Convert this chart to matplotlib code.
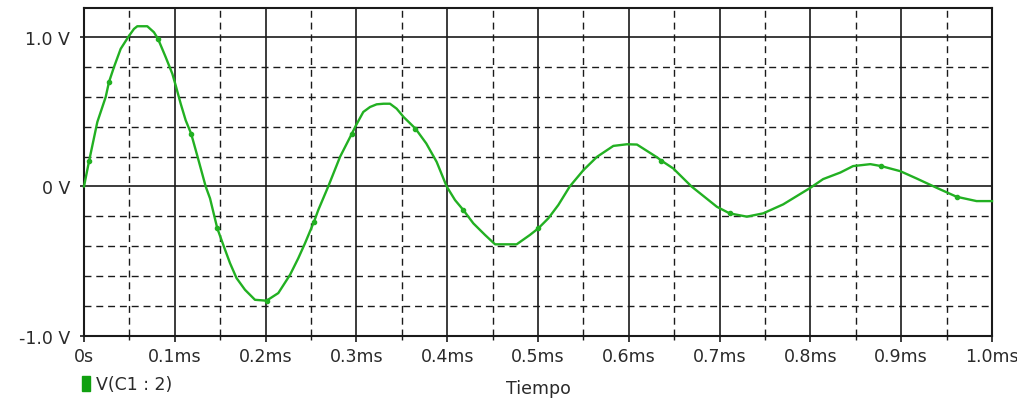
import numpy as np
import matplotlib
matplotlib.use('Agg')
import matplotlib.pyplot as plt
from matplotlib.ticker import MultipleLocator, FixedLocator

# Transient response V(C1:2), time in ms, voltage in V
t_ms = [0.0, 0.0055, 0.0147, 0.0239, 0.0275, 0.033, 0.0404, 0.0488, 0.055, 0.0587,
        0.0697, 0.077, 0.0815, 0.09, 0.0973, 0.101, 0.1065, 0.112, 0.118, 0.125,
        0.134, 0.1388, 0.1468, 0.1534, 0.1608, 0.168, 0.1773, 0.1883, 0.201, 0.214,
        0.2269, 0.236, 0.2434, 0.2533, 0.258, 0.269, 0.282, 0.295, 0.2996, 0.3076,
        0.315, 0.3223, 0.33, 0.337, 0.3443, 0.352, 0.365, 0.377, 0.3884, 0.3994,
        0.4086, 0.4178, 0.4288, 0.4416, 0.4527, 0.4765, 0.4912, 0.5004, 0.5114, 0.5224,
        0.535, 0.55, 0.565, 0.583, 0.598, 0.609, 0.631, 0.636, 0.649, 0.669,
        0.697, 0.711, 0.73, 0.748, 0.77, 0.8, 0.814, 0.833, 0.847, 0.866,
        0.878, 0.899, 0.917, 0.939, 0.961, 0.983, 1.0]
v_c1 = [0.0, 0.167, 0.431, 0.598, 0.698, 0.798, 0.92, 1.0, 1.053, 1.071,
        1.071, 1.031, 0.987, 0.864, 0.753, 0.675, 0.553, 0.442, 0.353, 0.20,
        0.0, -0.08, -0.28, -0.391, -0.513, -0.613, -0.691, -0.758, -0.764, -0.713,
        -0.591, -0.48, -0.38, -0.236, -0.158, 0.0, 0.198, 0.353, 0.409, 0.498,
        0.531, 0.549, 0.553, 0.553, 0.52, 0.464, 0.387, 0.287, 0.164, 0.0,
        -0.091, -0.158, -0.247, -0.324, -0.387, -0.387, -0.324, -0.28, -0.213, -0.124,
        0.0, 0.109, 0.198, 0.271, 0.282, 0.28, 0.195, 0.172, 0.12, 0.0,
        -0.136, -0.18, -0.202, -0.18, -0.12, -0.009, 0.049, 0.093, 0.136, 0.149,
        0.136, 0.102, 0.053, -0.009, -0.069, -0.098, -0.098]
marker_times = [0.0055, 0.0275, 0.0815, 0.118, 0.1468, 0.201, 0.2533, 0.295, 0.365,
                0.4178, 0.5004, 0.636, 0.711, 0.878, 0.961]

x_major = [0.1 * i for i in range(11)]
x_labels = ['0s', '0.1ms', '0.2ms', '0.3ms', '0.4ms', '0.5ms', '0.6ms',
            '0.7ms', '0.8ms', '0.9ms', '1.0ms']
y_major = [-1.0, 0.0, 1.0]
y_labels = ['-1.0 V', '0 V', '1.0 V']

trace_color = '#22b022'
grid_color = '#1a1a1a'
text_color = '#2a2a2a'
dash = (0, (5, 3.5))

plt.rcParams['font.family'] = ['DejaVu Sans']

fig = plt.figure(figsize=(10.17, 4.10), dpi=100)
ax = fig.add_axes([84 / 1017, 1 - 337 / 410, 908 / 1017, 328 / 410])

ax.set_xlim(0, 1.0)
ax.set_ylim(-1.0, 1.193)

# dashed minor grid
for x in np.arange(0.05, 1.0, 0.1):
    ax.axvline(x, color=grid_color, lw=1.0, ls=dash, zorder=1)
for y in [-0.8, -0.6, -0.4, -0.2, 0.2, 0.4, 0.6, 0.8]:
    ax.axhline(y, color=grid_color, lw=1.0, ls=dash, zorder=1)
# solid major grid
for x in x_major[1:-1]:
    ax.axvline(x, color=grid_color, lw=1.2, zorder=1)
for y in [0.0, 1.0]:
    ax.axhline(y, color=grid_color, lw=1.2, zorder=1)

marks = [t_ms.index(m) for m in marker_times]
ax.plot(t_ms, v_c1, color=trace_color, lw=1.7, marker='o', markersize=3,
        markevery=marks, zorder=3, clip_on=False)

ax.xaxis.set_major_locator(FixedLocator(x_major))
ax.xaxis.set_minor_locator(MultipleLocator(0.05))
ax.set_xticklabels(x_labels)
ax.yaxis.set_major_locator(FixedLocator(y_major))
ax.set_yticklabels(y_labels)
ax.yaxis.set_minor_locator(FixedLocator([]))

ax.tick_params(axis='x', which='major', length=4, width=1.2, color=grid_color,
               pad=4, labelsize=12.5, labelcolor=text_color)
ax.tick_params(axis='x', which='minor', length=3, width=1.0, color=grid_color)
ax.tick_params(axis='y', which='major', length=3, width=1.2, color=grid_color,
               pad=7, labelsize=12.5, labelcolor=text_color)

for side in ax.spines.values():
    side.set_linewidth(1.5)
    side.set_color(grid_color)

ax.set_xlabel('Tiempo', fontsize=12.5, color=text_color, labelpad=10)

# legend entry below the axes
fig.patches.append(plt.Rectangle((82 / 1017, 1 - 392 / 410), 8 / 1017, 15 / 410,
                                 transform=fig.transFigure, color='#10a010'))
fig.text(96 / 1017, 1 - 385 / 410, 'V(C1 : 2)', fontsize=12.5, color=text_color,
         va='center', ha='left')

fig.savefig('out.png', dpi=100)
